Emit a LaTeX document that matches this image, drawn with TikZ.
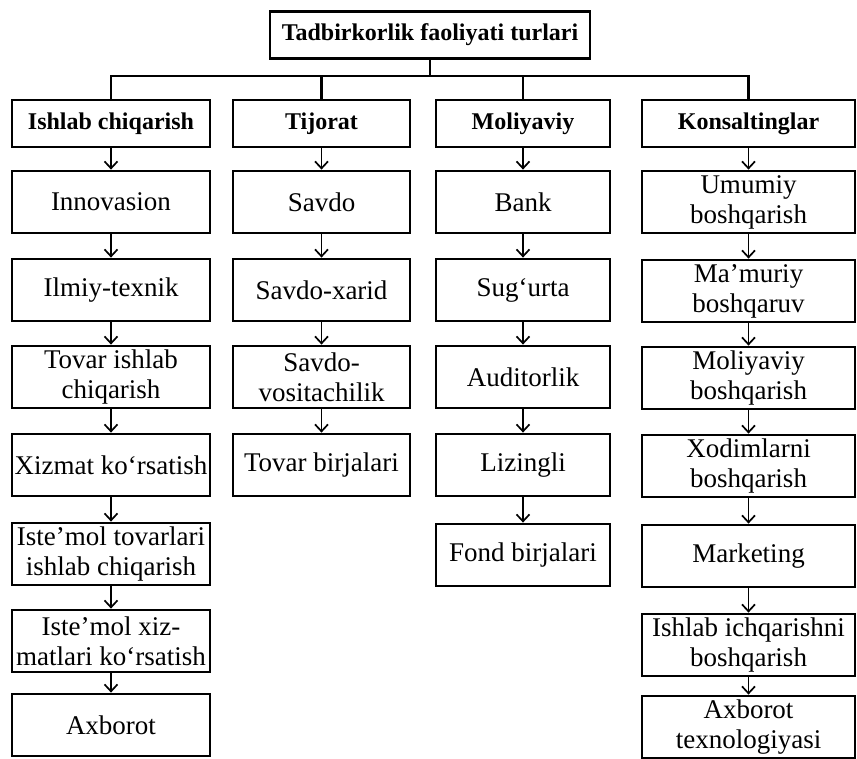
\documentclass[tikz,border=0pt]{standalone}
\usepackage{fontspec}
\setmainfont{Liberation Serif}
\usetikzlibrary{arrows.meta}

\begin{document}
\begin{tikzpicture}[x=1pt, y=1pt,
	box/.style={shape=rectangle, draw=black, line width=2.8pt, inner xsep=1pt, inner ysep=1pt, align=center, minimum height=62pt, font=\fontsize{27}{30}\selectfont},
	head/.style={shape=rectangle, draw=black, line width=2.8pt, inner xsep=2pt, minimum height=47pt, font=\fontsize{24}{28}\selectfont\bfseries},
	colA/.style={minimum width=198pt},
	colB/.style={minimum width=177pt},
	colC/.style={minimum width=174pt},
	colD/.style={minimum width=213pt},
	link/.style={line width=1.7pt, -{Straight Barb[length=7pt, width=13pt]}},
	bus/.style={line width=2.2pt}]

	\useasboundingbox (0, 0) rectangle (857, -759);

	\node[head, minimum width=320pt] (top) at (430, -35) {Tadbirkorlik faoliyati turlari};
	\coordinate (bus) at (430, -76);

	\node[head, colA] (A0) at (111, -123.5) {Ishlab chiqarish};
	\node[head, colB] (B0) at (321.5, -123.5) {Tijorat};
	\node[head, colC] (C0) at (523, -123.5) {Moliyaviy};
	\node[head, colD] (D0) at (748.5, -123.5) {Konsaltinglar};

	\node[box, colA] (A1) at (111, -202) {Innovasion};
	\node[box, colA] (A2) at (111, -290) {Ilmiy-texnik};
	\node[box, colA] (A3) at (111, -377) {Tovar ishlab\\chiqarish};
	\node[box, colA] (A4) at (111, -465) {Xizmat ko‘rsatish};
	\node[box, colA] (A5) at (111, -554) {Iste’mol tovarlari\\ishlab chiqarish};
	\node[box, colA] (A6) at (111, -641) {Iste’mol xiz-\\matlari ko‘rsatish};
	\node[box, colA] (A7) at (111, -725) {Axborot};

	\node[box, colB] (B1) at (321.5, -202) {Savdo};
	\node[box, colB] (B2) at (321.5, -290) {Savdo-xarid};
	\node[box, colB] (B3) at (321.5, -377) {Savdo-\\vositachilik};
	\node[box, colB] (B4) at (321.5, -465) {Tovar birjalari};

	\node[box, colC] (C1) at (523, -202) {Bank};
	\node[box, colC] (C2) at (523, -290) {Sug‘urta};
	\node[box, colC] (C3) at (523, -377) {Auditorlik};
	\node[box, colC] (C4) at (523, -465) {Lizingli};
	\node[box, colC] (C5) at (523, -555) {Fond birjalari};

	\node[box, colD] (D1) at (748.5, -202) {Umumiy\\boshqarish};
	\node[box, colD] (D2) at (748.5, -291) {Ma’muriy\\boshqaruv};
	\node[box, colD] (D3) at (748.5, -378) {Moliyaviy\\boshqarish};
	\node[box, colD] (D4) at (748.5, -466) {Xodimlarni\\boshqarish};
	\node[box, colD] (D5) at (748.5, -556) {Marketing};
	\node[box, colD] (D6) at (748.5, -645) {Ishlab ichqarishni\\boshqarish};
	\node[box, colD] (D7) at (748.5, -727) {Axborot\\texnologiyasi};

	\draw [bus] (top) -- (bus);
	\draw [bus] (bus) -| (A0);
	\draw [bus] (bus) -| (B0);
	\draw [bus] (bus) -| (C0);
	\draw [bus] (bus) -| (D0);

	\path [link] (A0) edge (A1);
	\path [link] (A1) edge (A2);
	\path [link] (A2) edge (A3);
	\path [link] (A3) edge (A4);
	\path [link] (A4) edge (A5);
	\path [link] (A5) edge (A6);
	\path [link] (A6) edge (A7);

	\path [link] (B0) edge (B1);
	\path [link] (B1) edge (B2);
	\path [link] (B2) edge (B3);
	\path [link] (B3) edge (B4);

	\path [link] (C0) edge (C1);
	\path [link] (C1) edge (C2);
	\path [link] (C2) edge (C3);
	\path [link] (C3) edge (C4);
	\path [link] (C4) edge (C5);

	\path [link] (D0) edge (D1);
	\path [link] (D1) edge (D2);
	\path [link] (D2) edge (D3);
	\path [link] (D3) edge (D4);
	\path [link] (D4) edge (D5);
	\path [link] (D5) edge (D6);
	\path [link] (D6) edge (D7);

\end{tikzpicture}
\end{document}
